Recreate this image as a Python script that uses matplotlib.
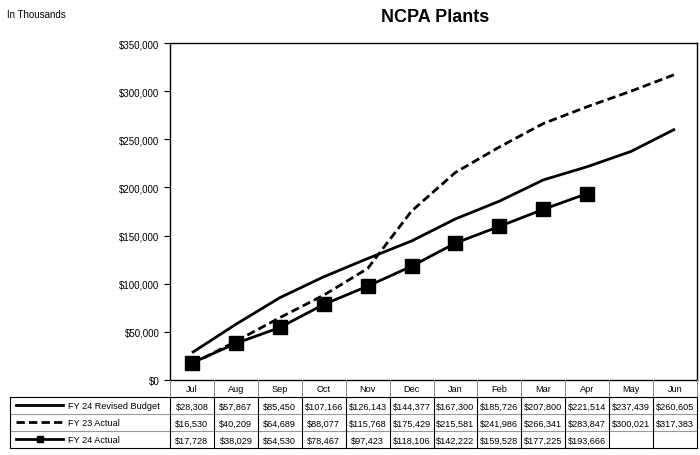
import matplotlib.pyplot as plt
from matplotlib import font_manager
from matplotlib.ticker import FuncFormatter

months = ["Jul", "Aug", "Sep", "Oct", "Nov", "Dec", "Jan", "Feb", "Mar", "Apr", "May", "Jun"]
budget_fy24 = [28308, 57867, 85450, 107166, 126143, 144377, 167300, 185726, 207800, 221514, 237439, 260605]
actual_fy23 = [16530, 40209, 64689, 88077, 115768, 175429, 215581, 241986, 266341, 283847, 300021, 317383]
actual_fy24 = [17728, 38029, 54530, 78467, 97423, 118106, 142222, 159528, 177225, 193666]
series_names = ["FY 24 Revised Budget", "FY 23 Actual", "FY 24 Actual"]

names = {f.name for f in font_manager.fontManager.ttflist}
narrow = "Liberation Sans Narrow" if "Liberation Sans Narrow" in names else "Liberation Sans"
plt.rcParams['font.family'] = [narrow, 'DejaVu Sans']

W, H = 700, 456
fig = plt.figure(figsize=(7, 4.56), dpi=100)

# plot area in pixels
L, R, T, B = 170, 697, 44, 381
ax = fig.add_axes([L / W, 1 - B / H, (R - L) / W, (B - T) / H])
x = list(range(len(months)))
ax.plot(x, budget_fy24, color='black', lw=2.0, solid_capstyle='butt')
ax.plot(x, actual_fy23, color='black', lw=2.0, ls=(0, (3, 1.5)))
ax.plot(x[:len(actual_fy24)], actual_fy24, color='black', lw=2.0, marker='s', ms=9.5)
ax.set_xlim(-0.5, len(months) - 0.5)
ax.set_ylim(0, 350000)
ax.set_yticks(range(0, 350001, 50000))
ax.yaxis.set_major_formatter(FuncFormatter(lambda v, p: "${:,.0f}".format(v)))
ax.tick_params(axis='y', labelsize=7, length=4, width=0.8, direction='out')
ax.set_xticks([])
for s in ax.spines.values():
    s.set_linewidth(1.0)

fig.text(435 / W, 1 - 18 / H, "NCPA Plants", ha='center', va='center', fontsize=13,
         fontweight='bold', family=['Liberation Sans', 'DejaVu Sans'])
fig.text(7 / W, 1 - 15 / H, "In Thousands", ha='left', va='center', fontsize=7,
         family=['Liberation Sans', 'DejaVu Sans'])

# data table below the chart (pixel coordinates)
tb = fig.add_axes([0, 0, 1, 1])
tb.set_xlim(0, W)
tb.set_ylim(H, 0)
tb.axis('off')
tb.patch.set_alpha(0)
cw = (R - L) / len(months)
rows_y = [381, 398, 415, 432, 449]
lab_left = 10
fs = 6.6

# header vertical lines and labels
for i, m in enumerate(months):
    tb.text(L + (i + 0.5) * cw, (rows_y[0] + rows_y[1]) / 2 + 0.5, m, ha='center', va='center', fontsize=fs)
for i in range(len(months) + 1):
    tb.plot([L + i * cw] * 2, [rows_y[0], rows_y[1]], color='#888888', lw=0.7)
# horizontal lines
tb.plot([lab_left, R], [rows_y[1]] * 2, color='black', lw=0.8)
for y in rows_y[2:4]:
    tb.plot([lab_left, R], [y] * 2, color='#999999', lw=0.8)
tb.plot([lab_left, R], [rows_y[4]] * 2, color='black', lw=0.8)
tb.plot([lab_left] * 2, [rows_y[1], rows_y[4]], color='black', lw=0.8)
for i in range(len(months) + 1):
    tb.plot([L + i * cw] * 2, [rows_y[1], rows_y[4]], color='black', lw=0.8)

data_rows = [budget_fy24, actual_fy23, actual_fy24]
for r, (name, vals) in enumerate(zip(series_names, data_rows)):
    yc = (rows_y[r + 1] + rows_y[r + 2]) / 2
    if r == 0:
        tb.plot([16, 63], [yc, yc], color='black', lw=2.0)
    elif r == 1:
        tb.plot([16, 63], [yc, yc], color='black', lw=2.0, ls=(0, (3, 1.5)))
    else:
        tb.plot([16, 40, 63], [yc, yc, yc], color='black', lw=2.0, marker='s', ms=5, markevery=[1])
    tb.text(68, yc + 0.5, name, ha='left', va='center', fontsize=fs)
    for i, v in enumerate(vals):
        tb.text(L + (i + 0.5) * cw, yc + 0.5, "${:,.0f}".format(v), ha='center', va='center', fontsize=fs)

fig.savefig("out.png", dpi=100)
